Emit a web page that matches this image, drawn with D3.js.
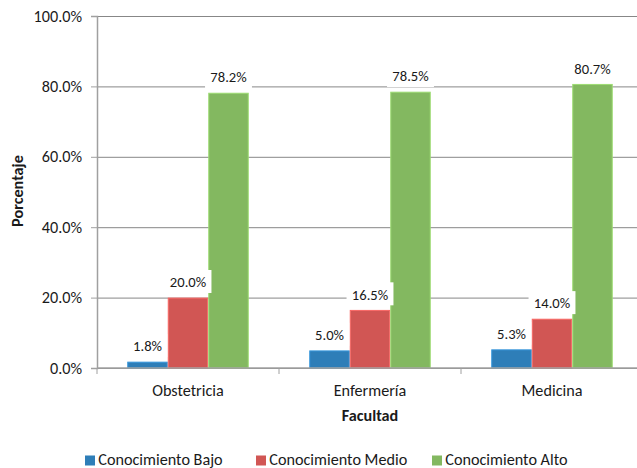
<!DOCTYPE html>
<html><head><meta charset="utf-8">
<script src="https://cdn.jsdelivr.net/npm/d3@7"></script>
<style>html,body{margin:0;padding:0;background:#fff;} svg{display:block;font-family:Carlito,Calibri,sans-serif;}</style>
</head><body>
<svg id="chart" width="637" height="468"></svg>
<script>
const categories = ["Obstetricia", "Enfermería", "Medicina"];
const seriesNames = ["Conocimiento Bajo", "Conocimiento Medio", "Conocimiento Alto"];
const bajo = [1.8, 5.0, 5.3];
const medio = [20.0, 16.5, 14.0];
const alto = [78.2, 78.5, 80.7];
const yTicks = [0, 20, 40, 60, 80, 100];
const colors = ["#2E7EB8", "#D15654", "#83B860"];

const seriesValues = [bajo, medio, alto];
const data = categories.map((c, i) => ({cat: c, vals: seriesValues.map((s, j) => ({key: seriesNames[j], idx: j, v: s[i]}))}));

const svg = d3.select("#chart");
const m = {left: 97, top: 16};
const W = 546, H = 352;
const g = svg.append("g").attr("transform", `translate(${m.left},${m.top})`);
const txt = "#1a1a1a";
const FS = 16.2, LFS = 14.6;

const y = d3.scaleLinear().domain([0, 100]).range([H, 0]);
const x0 = d3.scaleBand().domain(categories).range([0, W]).paddingInner(0.3324).paddingOuter(0.1662);
const x1 = d3.scaleBand().domain(seriesNames).range([0, x0.bandwidth()]);

// gridlines
g.append("g").call(d3.axisLeft(y).tickValues(yTicks).tickSize(-W).tickFormat(""))
  .call(a => a.select(".domain").remove())
  .call(a => a.selectAll("line").attr("stroke", "#878787").attr("stroke-width", 1));

// y axis
const ya = g.append("g").call(d3.axisLeft(y).tickValues(yTicks).tickSize(6).tickPadding(9).tickFormat(d => d.toFixed(1) + "%"));
ya.select(".domain").attr("stroke", "#a0a0a0").attr("stroke-width", 1.5);
ya.selectAll("line").attr("stroke", "#a0a0a0");
ya.selectAll("text").attr("font-size", FS).attr("fill", txt).attr("font-family", "Carlito, Calibri, sans-serif");

// bars
const groups = g.selectAll(".grp").data(data).join("g").attr("transform", d => `translate(${x0(d.cat)},0)`);
groups.selectAll("rect").data(d => d.vals).join("rect")
  .attr("x", d => x1(d.key) + 0.5).attr("width", x1.bandwidth() - 1)
  .attr("y", d => y(d.v) + 0.5).attr("height", d => H - y(d.v) - 0.5)
  .attr("fill", d => colors[d.idx])
  .attr("stroke", d => d3.color(colors[d.idx]).brighter(0.5)).attr("stroke-width", 1);

// x axis line and boundary ticks
g.append("line").attr("x1", 0).attr("x2", W).attr("y1", H).attr("y2", H).attr("stroke", "#a0a0a0").attr("stroke-width", 1.5);
const bounds = categories.map(c => x0(c) - x0.step() * x0.paddingInner() / 2).concat([W]);
g.selectAll(".bt").data(bounds).join("line")
  .attr("x1", d => d).attr("x2", d => d).attr("y1", H).attr("y2", H + 6).attr("stroke", "#a0a0a0");
g.selectAll(".cl").data(categories).join("text")
  .attr("x", d => x0(d) + x0.bandwidth() / 2).attr("y", H + 28)
  .attr("text-anchor", "middle").attr("font-size", FS).attr("fill", txt).text(d => d);

// data labels (box sized to text)
const labels = g.selectAll(".lg").data(data).join("g").attr("transform", d => `translate(${x0(d.cat)},0)`)
  .selectAll("g").data(d => d.vals).join("g")
  .attr("transform", d => `translate(${x1(d.key) + x1.bandwidth() / 2},${y(d.v)})`);
const boxes = labels.append("rect").attr("y", -27.6).attr("height", 23).attr("fill", "#fff");
const ltxt = labels.append("text").attr("y", -10.4).attr("text-anchor", "middle").attr("font-size", LFS).attr("fill", txt)
  .text(d => d.v.toFixed(1) + "%");
ltxt.each(function() {
  const w = this.getComputedTextLength() + 10.6;
  d3.select(this.parentNode).select("rect").attr("x", -w / 2).attr("width", w);
});

// axis titles
svg.append("text").attr("transform", `translate(23,191) rotate(-90)`).attr("text-anchor", "middle")
  .attr("font-size", FS).attr("font-weight", "bold").attr("fill", txt).text("Porcentaje");
svg.append("text").attr("x", m.left + W / 2).attr("y", 420.5).attr("text-anchor", "middle")
  .attr("font-size", FS).attr("font-weight", "bold").attr("fill", txt).text("Facultad");

// legend
const legX = [85, 256, 432];
const leg = svg.selectAll(".leg").data(seriesNames).join("g").attr("transform", (d, i) => `translate(${legX[i]},455.5)`);
leg.append("rect").attr("width", 10).attr("height", 10).attr("fill", (d, i) => colors[i]);
leg.append("text").attr("x", 13.3).attr("y", 9.5).attr("font-size", FS).attr("fill", txt).text(d => d);
</script>
</body></html>
